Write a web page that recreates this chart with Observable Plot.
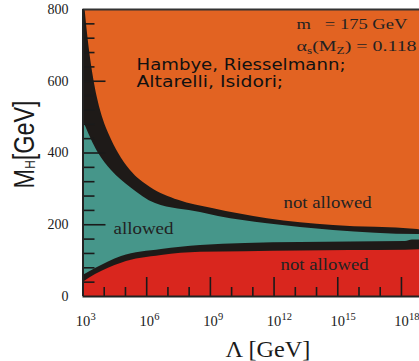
<!DOCTYPE html>
<html><head><meta charset="utf-8">
<script src="https://cdn.jsdelivr.net/npm/d3@7"></script>
<script src="https://cdn.jsdelivr.net/npm/@observablehq/plot@0.6"></script>
<style>body{margin:0;background:#fff} svg text{white-space:pre}</style>
</head><body><div id="chart"></div>
<script>
// Curves: [log10(Λ/GeV), M_H (GeV)]
const upperOuter = [[3.0,870],[3.104,797],[3.306,686],[3.542,594],[3.707,546],[3.966,491],[4.225,452],[4.672,399],[5.237,351],[6.179,304],[7.498,268],[9.100,245],[11.69,217],[14.80,198],[18.76,187],[18.85,186]];
const upperInner = [[3.0,491],[3.730,399],[4.342,351],[5.237,304],[6.415,259],[8.535,234],[9.382,223],[11.69,203],[14.80,184],[18.76,173],[18.85,173]];
const lowerUpper = [[3.0,58.5],[3.589,78],[4.813,111.5],[6.698,131],[8.535,142],[10.654,148],[13.245,150.5],[15.60,152],[18.19,153],[18.52,157.5],[18.85,157.5]];
const lowerLower = [[3.0,39],[3.589,61],[4.813,93],[6.698,114],[8.535,123],[10.654,125],[13.245,127],[15.60,128],[18.19,129],[18.85,130]];

// Ticks
const xMajor = [3, 6, 9, 12, 15, 18];
const xMinor = [4, 5, 7, 8, 10, 11, 13, 14, 16, 17];
const yMajor = [200, 400, 600];
const yMinor = [40,80,120,160,240,280,320,360,440,480,520,560,640,680,720,760];
const yLabels = [0, 200, 400, 600, 800];

// Annotations [text, log10 Λ, M_H]
const paramNotes = [["m   = 175 GeV", 13.06, 747], ["αs(MZ) = 0.118", 13.06, 683]];
const authorNotes = [["Hambye, Riesselmann;", 5.52, 630], ["Altarelli, Isidori;", 5.52, 585]];
const regionNotes = [["not allowed", 14.52, 248], ["allowed", 5.85, 173], ["not allowed", 14.38, 75]];
const xTitle = "Λ [GeV]";
const yTitle = "MH[GeV]";

const ORANGE = "#e26322", TEAL = "#46968a", RED = "#d9261e", BAND = "#1e1a18", INK = "#1a1a1a";
const SERIF = "Liberation Serif, Times New Roman, serif";
const SANS = "DejaVu Sans, Verdana, sans-serif";

const W = 419, H = 361, X0 = 82.5, TOP = 9, BOT = 296;
const fw = W - X0, fh = BOT - TOP;
const px = d => 10 ** d[0];

const area = (data, fill) => Plot.areaY(data, {x: px, y1: 0, y2: d => d[1], fill, curve: "monotone-x", clip: true});

const svg = Plot.plot({
  width: W, height: H,
  marginLeft: X0, marginRight: 0, marginTop: TOP, marginBottom: H - BOT,
  x: {type: "log", domain: [1e3, 10 ** 18.85], axis: null},
  y: {domain: [0, 800], axis: null},
  style: {background: "#fff", overflow: "visible"},
  marks: [
    Plot.frame({fill: ORANGE, stroke: null}),
    area(upperOuter, BAND),
    area(upperInner, TEAL),
    area(lowerUpper, BAND),
    area(lowerLower, RED),
    // ticks
    Plot.ruleY(yMajor, {y: d => d, stroke: INK, strokeWidth: 1.6, insetRight: fw - 23}),
    Plot.ruleY(yMinor, {y: d => d, stroke: INK, strokeWidth: 1.6, insetRight: fw - 12}),
    Plot.ruleX(xMajor, {x: e => 10 ** e, stroke: INK, strokeWidth: 1.6, insetTop: fh - 19}),
    Plot.ruleX(xMinor, {x: e => 10 ** e, stroke: INK, strokeWidth: 1.6, insetTop: fh - 9}),
    // frame lines
    Plot.ruleY([800], {y: d => d, stroke: "#333", strokeWidth: 2}),
    Plot.ruleY([0], {y: d => d, stroke: "#222", strokeWidth: 2}),
    Plot.ruleX([1e3], {x: d => d, stroke: "#222", strokeWidth: 2}),
    // tick labels
    Plot.text(yLabels, {x: () => 1e3, y: d => d, text: d => String(d), dx: -14.5, textAnchor: "end", lineAnchor: "middle", fontFamily: SERIF, fontSize: 14, fill: INK}),
    Plot.text(xMajor, {x: e => 10 ** e, y: () => 0, text: () => "10", dy: 29, textAnchor: "middle", lineAnchor: "bottom", fontFamily: SERIF, fontSize: 14.5, fill: INK}),
    Plot.text(xMajor, {x: e => 10 ** e, y: () => 0, text: e => String(e), dx: 7.5, dy: 23, textAnchor: "start", lineAnchor: "bottom", fontFamily: SERIF, fontSize: 10.5, fill: INK}),
    // annotations
    Plot.text(paramNotes, {x: d => 10 ** d[1], y: d => d[2], text: d => d[0], textAnchor: "start", lineAnchor: "bottom", fontFamily: SERIF, fontSize: 15, fill: "#222"}),
    Plot.text(authorNotes, {x: d => 10 ** d[1], y: d => d[2], text: d => d[0], textAnchor: "start", lineAnchor: "bottom", fontFamily: SANS, fontSize: 15, fill: "#111"}),
    Plot.text(regionNotes, {x: d => 10 ** d[1], y: d => d[2], text: d => d[0], textAnchor: "middle", lineAnchor: "bottom", fontFamily: SERIF, fontSize: 16, fill: "#222"}),
    // axis titles
    Plot.text([xTitle], {x: () => 10 ** 11.71, y: () => 0, text: d => d, dy: 60.5, textAnchor: "middle", lineAnchor: "bottom", fontFamily: SERIF, fontSize: 23, fill: INK}),
    Plot.text([yTitle], {x: () => 1e3, y: () => 424, text: d => d, dx: -49.5, rotate: -90, textAnchor: "middle", lineAnchor: "bottom", fontFamily: "Liberation Sans, Arial, sans-serif", fontSize: 30, fill: INK})
  ]
});

const NS = "http://www.w3.org/2000/svg";
function setParts(t, parts) {
  t.textContent = "";
  for (const [s, dy, fs] of parts) {
    const ts = document.createElementNS(NS, "tspan");
    ts.textContent = s;
    if (dy) ts.setAttribute("dy", dy);
    if (fs) ts.setAttribute("font-size", fs);
    t.appendChild(ts);
  }
}
const lengths = {
  "m   = 175 GeV": 110.7, "αs(MZ) = 0.118": 120,
  "Hambye, Riesselmann;": 209, "Altarelli, Isidori;": 146.7,
  "not allowed": 88, "allowed": 60, "Λ [GeV]": 85, "MH[GeV]": 88
};
svg.querySelectorAll("text").forEach(t => {
  const s = t.textContent;
  if (!(s in lengths)) return;
  if (s === "αs(MZ) = 0.118") setParts(t, [["α"], ["s", 3, 10], ["(M", -3], ["Z", 3, 10], [") = 0.118", -3]]);
  if (s === "MH[GeV]") setParts(t, [["M"], ["H", 1, 15], ["[GeV]", -1]]);
  t.setAttribute("textLength", lengths[s]);
  t.setAttribute("lengthAdjust", "spacingAndGlyphs");
});

document.getElementById("chart").appendChild(svg);
</script>
</body></html>
